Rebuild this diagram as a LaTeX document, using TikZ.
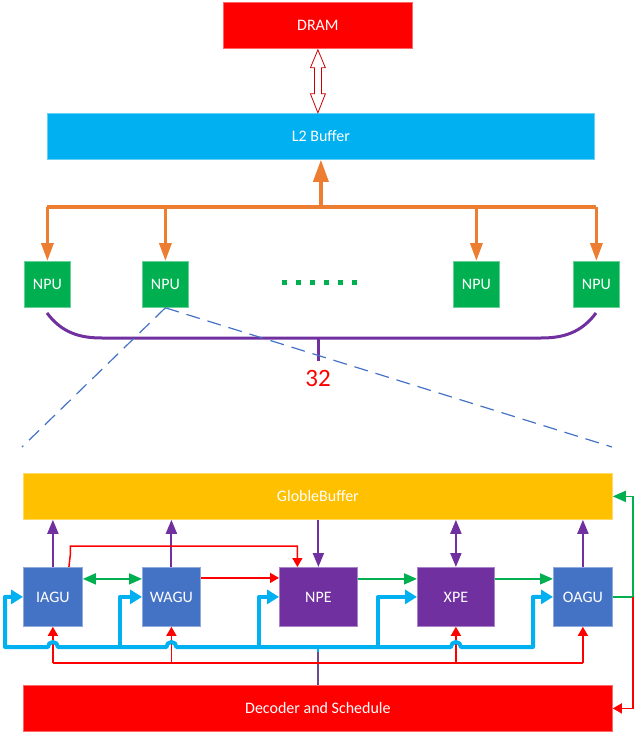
\documentclass[tikz,border=0pt]{standalone}
\usepackage{fontspec}
\setmainfont{Carlito}
\usetikzlibrary{arrows.meta,calc}
\definecolor{cred}{HTML}{FF0000}
\definecolor{ccyan}{HTML}{00B0F0}
\definecolor{corange}{HTML}{ED7D31}
\definecolor{cgreen}{HTML}{00B050}
\definecolor{cpurple}{HTML}{7030A0}
\definecolor{cblue}{HTML}{4472C4}
\definecolor{cgold}{HTML}{FFC000}
\definecolor{cstem}{HTML}{6A4C8C}
\begin{document}
\begin{tikzpicture}[x=1pt,y=-1pt,
  box/.style={anchor=north west, inner sep=0pt, text=white, font=\fontsize{16}{19}\selectfont, line width=0.8pt},
  orl/.style={draw=corange, line width=3.5pt},
  pul/.style={draw=cpurple, line width=2pt},
  redl/.style={draw=cred, line width=1.5pt},
  grl/.style={draw=cgreen, line width=1.8pt},
  bll/.style={draw=ccyan, line width=4pt},
  dashl/.style={draw=cblue, line width=1.2pt, dash pattern=on 14pt off 8pt},
  ptip/.tip={Triangle[length=14pt,width=11pt]},
  rtip/.tip={Triangle[length=9pt,width=10pt]},
  gtip/.tip={Triangle[length=13pt,width=11pt]},
  btip/.tip={Triangle[length=12pt,width=14pt]},
]
\useasboundingbox (0,0) rectangle (635,733);

% ---------- top part ----------
\node[box, fill=cred, draw=cred!60!white, minimum width=189pt, minimum height=46pt] (dram) at (223,2) {DRAM};
\node[box, fill=ccyan, draw=ccyan!60!white, minimum width=547pt, minimum height=46pt] (l2) at (47,113) {L2 Buffer};

\node[box, fill=cgreen, draw=cgreen!60!white, minimum width=46pt, minimum height=46pt] (npu1) at (24,261) {NPU};
\node[box, fill=cgreen, draw=cgreen!60!white, minimum width=46pt, minimum height=46pt] (npu2) at (142,261) {NPU};
\node[box, fill=cgreen, draw=cgreen!60!white, minimum width=46pt, minimum height=46pt] (npu3) at (453,261) {NPU};
\node[box, fill=cgreen, draw=cgreen!60!white, minimum width=46pt, minimum height=46pt] (npu4) at (573,261) {NPU};

% hollow double arrow DRAM <-> L2
\begin{scope}[shift={(dram.south)}]
  \draw[draw=cred!80!black, fill=white, line width=0.8pt]
    (0,1) -- (7.5,19) -- (3.5,19) -- (3.5,45) -- (7.5,45) -- (0,64)
    -- (-7.5,45) -- (-3.5,45) -- (-3.5,19) -- (-7.5,19) -- cycle;
\end{scope}

% orange bus
\coordinate (obus) at (0,207);
\draw[orl, -{Triangle[length=22pt,width=15pt]}] (l2.south |- obus) -- (l2.south);
\draw[orl] (npu1.north |- obus) -- (npu4.north |- obus);
\foreach \n in {npu1,npu2,npu3,npu4}
  \draw[orl, -{Triangle[length=18pt,width=12pt]}] (\n.north |- obus) -- (\n.north);

% dots
\foreach \i in {0,...,5}
  \fill[cgreen] (282+\i*14,280) rectangle ++(5,5);

% purple brace
\coordinate (brL) at (47,313);
\coordinate (brR) at (596,313);
\coordinate (brS) at (318,338);
\draw[draw=cpurple, line width=3pt]
  (brL) .. controls (62,333) and (80,338) .. (102,338) -- (541,338)
  .. controls (563,338) and (581,333) .. (brR);
\coordinate (brE) at (318,361);
\draw[draw=cpurple, line width=3pt] (brS) -- (brE);
\node[text=cred, font=\fontsize{25}{28}\selectfont, inner sep=0pt] (n32) at (318,378) {32};

% dashed zoom lines
\coordinate (dl) at (22,447);
\coordinate (dr) at (612,447);
\draw[dashl] (npu2.south) -- (dl);
\draw[dashl] (npu2.south) -- (dr);

% ---------- bottom part ----------
\node[box, fill=cgold, draw=cgold!60!white, minimum width=589pt, minimum height=46pt] (gb) at (23,473) {GlobleBuffer};
\node[box, fill=cblue, draw=cblue!60!white, minimum width=59pt, minimum height=59pt] (iagu) at (23,567) {IAGU};
\node[box, fill=cblue, draw=cblue!60!white, minimum width=58pt, minimum height=59pt] (wagu) at (142,567) {WAGU};
\node[box, fill=cpurple, draw=cpurple!60!white, minimum width=78pt, minimum height=59pt] (npe) at (279,567) {NPE};
\node[box, fill=cpurple, draw=cpurple!60!white, minimum width=77pt, minimum height=59pt] (xpe) at (417,567) {XPE};
\node[box, fill=cblue, draw=cblue!60!white, minimum width=59pt, minimum height=59pt] (oagu) at (553,567) {OAGU};
\node[box, fill=cred, draw=cred!60!white, minimum width=589pt, minimum height=46pt] (dec) at (23,685) {Decoder and Schedule};

% purple arrows to/from GlobleBuffer
\draw[pul, -ptip] (iagu.north) -- (iagu.north |- gb.south);
\draw[pul, -ptip] (wagu.north) -- (wagu.north |- gb.south);
\draw[pul, -ptip] (npe.north |- gb.south) -- (npe.north);
\draw[pul, ptip-ptip] (xpe.north |- gb.south) -- (xpe.north);
\draw[pul, -ptip] (oagu.north) -- (oagu.north |- gb.south);

% red IAGU -> NPE over the top
\coordinate (rtop) at (0,546);
\draw[redl, -rtip] ([xshift=16pt]iagu.north) -- ([xshift=17.5pt]iagu.north |- 0,554) -- ([xshift=17.5pt]iagu.north |- rtop) -| ([xshift=-21pt]npe.north);

% horizontal links
\draw[grl, gtip-gtip] ([yshift=18pt]iagu.east) -- ([yshift=18pt]wagu.west);
\draw[redl, -rtip] ([yshift=19pt]wagu.east) -- ([yshift=19pt]npe.west);
\draw[grl, -gtip] ([yshift=18pt]npe.east) -- ([yshift=18pt]xpe.west);
\draw[grl, -gtip] ([yshift=18pt]xpe.east) -- ([yshift=18pt]oagu.west);

% right side feedback
\coordinate (rside) at (633,0);
\draw[grl, -gtip] (oagu.east) -- (oagu.east -| rside) |- (gb.east);
\draw[redl, -rtip] (oagu.east -| rside) |- (dec.east);

% stem from decoder
\coordinate (bbus) at (0,647);
\coordinate (rbus) at (0,663);
\draw[draw=cstem, line width=2pt] (dec.north) -- (dec.north |- 0,650);

% red bus
\draw[redl] (iagu.south |- rbus) -- (oagu.south |- rbus);
\foreach \n in {iagu,wagu,xpe,oagu}
  \draw[redl, -rtip] (\n.south |- rbus) -- (\n.south);

% blue bus with hops
\draw[bll, line join=round, btip-btip]
  (iagu.west) -| (5,647)
  -- ($(iagu.south |- bbus)+(-5,0)$) arc[start angle=180,end angle=0,radius=5pt]
  -- ($(wagu.south |- bbus)+(-5,0)$) arc[start angle=180,end angle=0,radius=5pt]
  -- ($(xpe.south |- bbus)+(-5,0)$) arc[start angle=180,end angle=0,radius=5pt]
  -- (533,647) |- (oagu.west);
\draw[bll, line join=round, -btip] (120,647) |- (wagu.west);
\draw[bll, line join=round, -btip] (259,647) |- (npe.west);
\draw[bll, line join=round, -btip] (378,647) |- (xpe.west);
\draw[draw=ccyan, line width=2pt] (dec.north |- bbus) -- (dec.north |- 0,652);
\end{tikzpicture}
\end{document}
